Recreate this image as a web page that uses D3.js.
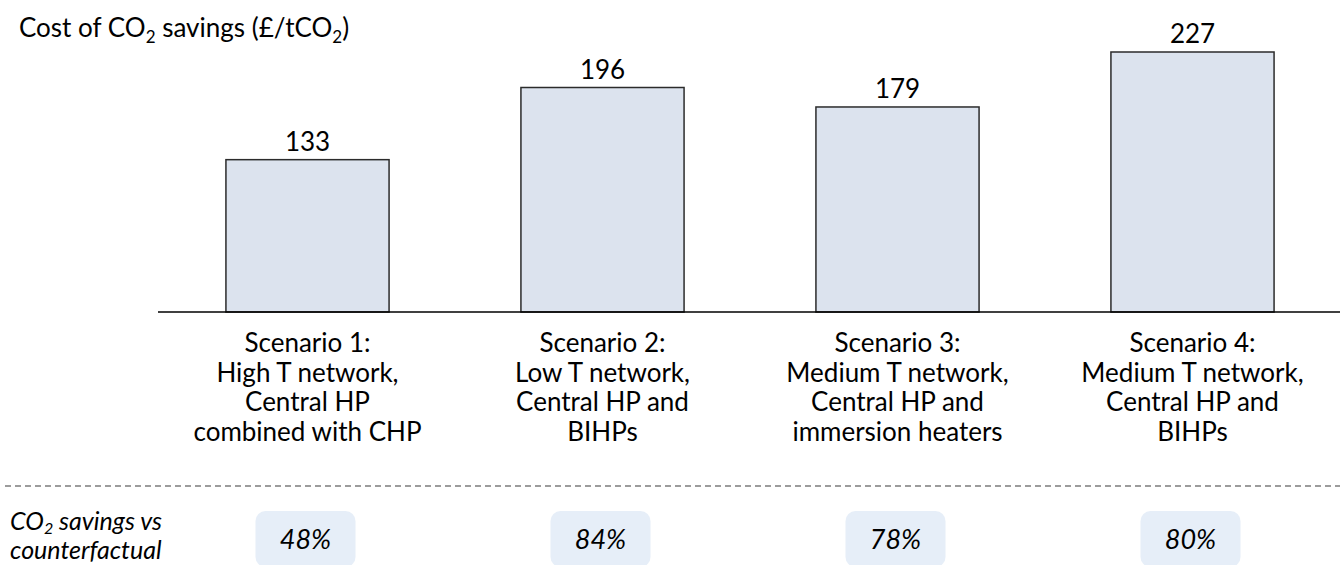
<!DOCTYPE html>
<html>
<head>
<meta charset="utf-8">
<script src="https://cdn.jsdelivr.net/npm/d3@7"></script>
<style>
  body { margin: 0; background: #fff; }
  svg { display: block; font-family: Lato, "Open Sans", sans-serif; }
</style>
</head>
<body>
<div id="chart"></div>
<script>
const scenarios = ["Scenario 1", "Scenario 2", "Scenario 3", "Scenario 4"];
const scenarioLabels = [
    ["Scenario 1:", "High T network,", "Central HP", "combined with CHP"],
    ["Scenario 2:", "Low T network,", "Central HP and", "BIHPs"],
    ["Scenario 3:", "Medium T network,", "Central HP and", "immersion heaters"],
    ["Scenario 4:", "Medium T network,", "Central HP and", "BIHPs"]
];
const costValues = [133, 196, 179, 227];
const savingsLabels = ["48%", "84%", "78%", "80%"];

const width = 1340;
const height = 565;
const baseY = 312;

const svg = d3.select("#chart").append("svg")
    .attr("width", width)
    .attr("height", height);

const x = d3.scaleBand()
    .domain(scenarios)
    .range([160, 1340])
    .paddingInner(0.447)
    .paddingOuter(0.2235);

const y = d3.scaleLinear()
    .domain([0, 227])
    .range([baseY, 52]);

// title with subscripts
const title = svg.append("text")
    .attr("x", 19)
    .attr("y", 37)
    .style("font-size", "26px")
    .attr("fill", "#000");
title.append("tspan").text("Cost of CO");
title.append("tspan").text("2").attr("dy", 6).style("font-size", "17px");
title.append("tspan").text(" savings (£/tCO").attr("dy", -6);
title.append("tspan").text("2").attr("dy", 6).style("font-size", "17px");
title.append("tspan").text(")").attr("dy", -6);

// bars
svg.append("g")
    .selectAll("rect")
    .data(costValues)
    .enter()
    .append("rect")
    .attr("x", (d, i) => x(scenarios[i]))
    .attr("y", d => y(d))
    .attr("width", x.bandwidth())
    .attr("height", d => baseY - y(d))
    .attr("fill", "#dce3ee")
    .attr("stroke", "#2b2b2b")
    .attr("stroke-width", 1.5);

// value labels
svg.append("g")
    .selectAll("text")
    .data(costValues)
    .enter()
    .append("text")
    .attr("x", (d, i) => x(scenarios[i]) + x.bandwidth() / 2)
    .attr("y", d => y(d) - 9)
    .attr("text-anchor", "middle")
    .style("font-size", "26px")
    .text(d => d);

// baseline
svg.append("line")
    .attr("x1", 158).attr("x2", width)
    .attr("y1", baseY).attr("y2", baseY)
    .attr("stroke", "#000")
    .attr("stroke-width", 1.5);

// category labels
const cat = svg.append("g")
    .selectAll("text")
    .data(scenarioLabels)
    .enter()
    .append("text")
    .attr("text-anchor", "middle")
    .style("font-size", "26px")
    .attr("x", (d, i) => x(scenarios[i]) + x.bandwidth() / 2)
    .attr("y", 352);
cat.selectAll("tspan")
    .data(d => d)
    .enter()
    .append("tspan")
    .attr("x", function () { return d3.select(this.parentNode).attr("x"); })
    .attr("dy", (d, i) => i === 0 ? 0 : 29.5)
    .text(d => d);

// dashed separator
svg.append("line")
    .attr("x1", 5).attr("x2", width)
    .attr("y1", 486).attr("y2", 486)
    .attr("stroke", "#3a3a3a")
    .attr("stroke-width", 1.1)
    .attr("stroke-dasharray", "6,4");

// left label for savings row
const lab = svg.append("text")
    .attr("x", 10)
    .attr("y", 530)
    .style("font-size", "25px")
    .style("font-style", "italic");
lab.append("tspan").text("CO");
lab.append("tspan").text("2").attr("dy", 4).style("font-size", "16px");
lab.append("tspan").text(" savings vs").attr("dy", -4);
svg.append("text")
    .attr("x", 10)
    .attr("y", 559)
    .style("font-size", "25px")
    .style("font-style", "italic")
    .text("counterfactual");

// savings boxes
const boxes = svg.append("g")
    .selectAll("g")
    .data(savingsLabels)
    .enter()
    .append("g")
    .attr("transform", (d, i) => `translate(${x(scenarios[i]) + x.bandwidth() / 2 - 2},0)`);
boxes.append("rect")
    .attr("x", -50)
    .attr("y", 511)
    .attr("width", 100)
    .attr("height", 56)
    .attr("rx", 10)
    .attr("fill", "#e6eef8");
boxes.append("text")
    .attr("text-anchor", "middle")
    .attr("y", 549)
    .style("font-size", "27px")
    .style("font-style", "italic")
    .text(d => d);
</script>
</body>
</html>
